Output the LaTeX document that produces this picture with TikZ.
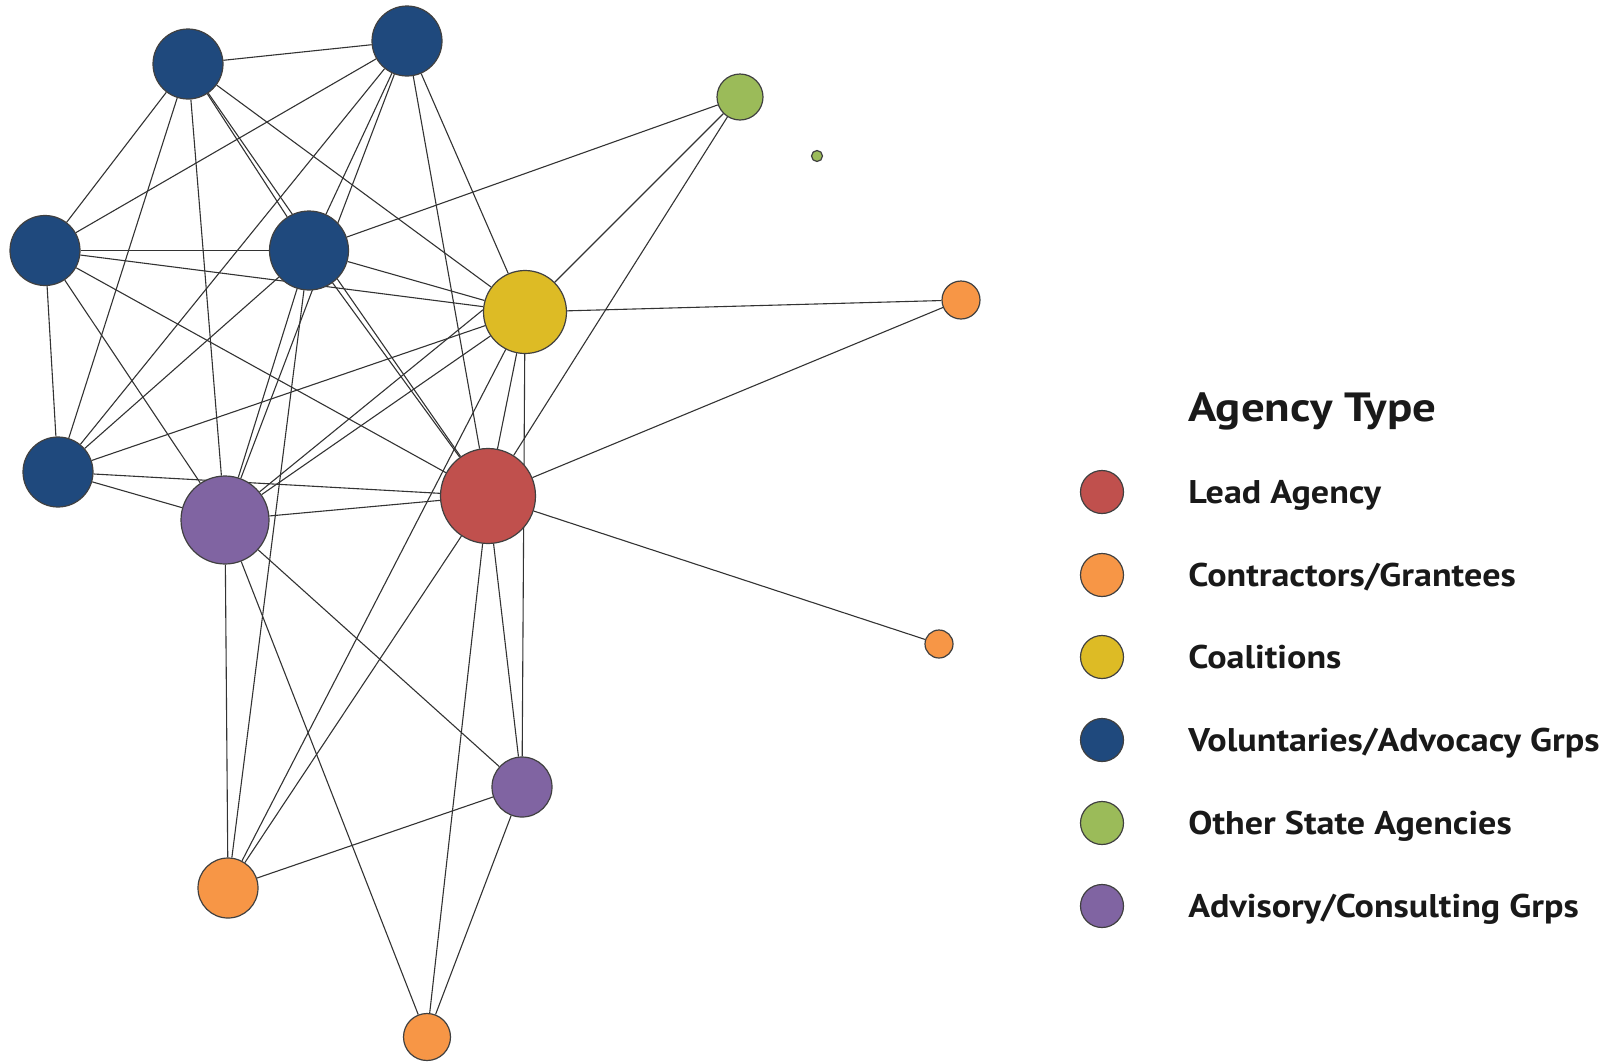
\documentclass[tikz,border=0pt]{standalone}
\usepackage{fontspec}
\setmainfont{PT Sans}
\newfontfamily\keyfont[FakeStretch=1.1]{PT Sans}
\newfontfamily\keytitlefont[FakeStretch=1.15]{PT Sans}
\usetikzlibrary{backgrounds}

\definecolor{leadred}{HTML}{C0504D}
\definecolor{conorange}{HTML}{F79646}
\definecolor{coalyellow}{HTML}{DDBB25}
\definecolor{volblue}{HTML}{1F497D}
\definecolor{stategreen}{HTML}{9BBB59}
\definecolor{advpurple}{HTML}{8064A2}

\begin{document}
\begin{tikzpicture}[x=0.5pt,y=-0.5pt]
        \tikzstyle{agency}=[circle, draw=black!75, line width=0.6pt, inner sep=0pt]
        \tikzstyle{tie}=[black!80, line width=0.55pt]
        \tikzstyle{key}=[anchor=base west, inner sep=0pt, text=black!90, font=\keyfont\bfseries\fontsize{16.4}{18}\selectfont]

        \useasboundingbox (0,0) rectangle (1617,1061);

        \node[agency, fill=volblue,    minimum size=35pt]   (v1)   at (188,64)    {};
        \node[agency, fill=volblue,    minimum size=35pt]   (v2)   at (407,41)    {};
        \node[agency, fill=volblue,    minimum size=35pt]   (v3)   at (45,250.5)  {};
        \node[agency, fill=volblue,    minimum size=39.5pt] (v4)   at (309,250.5) {};
        \node[agency, fill=volblue,    minimum size=35pt]   (v5)   at (58,472)    {};
        \node[agency, fill=coalyellow, minimum size=41.5pt] (coal) at (525,312)   {};
        \node[agency, fill=leadred,    minimum size=47.5pt] (lead) at (488,496)   {};
        \node[agency, fill=advpurple,  minimum size=44pt]   (adv1) at (225,520)   {};
        \node[agency, fill=advpurple,  minimum size=30pt]   (adv2) at (522,787)   {};
        \node[agency, fill=conorange,  minimum size=30pt]   (con1) at (228,888)   {};
        \node[agency, fill=conorange,  minimum size=23.5pt] (con2) at (427,1037)  {};
        \node[agency, fill=conorange,  minimum size=19pt]   (con3) at (961,300)   {};
        \node[agency, fill=conorange,  minimum size=14pt]   (con4) at (939,644)   {};
        \node[agency, fill=stategreen, minimum size=23pt]   (st1)  at (740,97)    {};
        \node[agency, fill=stategreen, minimum size=5.5pt]  (st2)  at (817,156)   {};

        \begin{scope}[on background layer]
        \draw[tie] (v1) -- (v2) -- (v3) -- (v1);
        \draw[tie] (v1) -- (v5);
        \draw[tie] (v1) -- (adv1);
        \draw[tie] (v1) -- (v4);
        \draw[tie] (v1) -- (lead);
        \draw[tie] (v1) -- (coal);
        \draw[tie] (v2) -- (v5);
        \draw[tie] (v2) -- (v4);
        \draw[tie] (v2) -- (adv1);
        \draw[tie] (v2) -- (lead);
        \draw[tie] (v2) -- (coal);
        \draw[tie] (v3) -- (v4);
        \draw[tie] (v3) -- (coal);
        \draw[tie] (v3) -- (v5);
        \draw[tie] (v3) -- (adv1);
        \draw[tie] (v3) -- (lead);
        \draw[tie] (v4) -- (st1);
        \draw[tie] (v4) -- (coal);
        \draw[tie] (v4) -- (v5);
        \draw[tie] (v4) -- (lead);
        \draw[tie] (v4) -- (adv1);
        \draw[tie] (v4) -- (con1);
        \draw[tie] (v5) -- (coal);
        \draw[tie] (v5) -- (lead);
        \draw[tie] (v5) -- (adv1);
        \draw[tie] (coal) -- (st1);
        \draw[tie] (coal) -- (con3);
        \draw[tie] (coal) -- (adv1);
        \draw[tie] (coal.177) -- (adv1);
        \draw[tie] (coal) -- (con1);
        \draw[tie] (coal) -- (lead);
        \draw[tie] (coal) -- (adv2);
        \draw[tie] (lead) -- (st1);
        \draw[tie] (lead) -- (con3);
        \draw[tie] (lead) -- (con4);
        \draw[tie] (lead) -- (adv1);
        \draw[tie] (lead) -- (con1);
        \draw[tie] (lead) -- (con2);
        \draw[tie] (lead) -- (adv2);
        \draw[tie] (adv1) -- (con1);
        \draw[tie] (adv1) -- (con2);
        \draw[tie] (adv1) -- (adv2);
        \draw[tie] (adv2) -- (con1);
        \draw[tie] (adv2) -- (con2);
        \end{scope}

        \node[key, font=\keytitlefont\bfseries\fontsize{20.4}{22}\selectfont] (keytitle) at (1188,421) {Agency Type};

        \node[agency, fill=leadred,    minimum size=21.5pt] (k1) at (1102,492) {};
        \node[agency, fill=conorange,  minimum size=21.5pt] (k2) at (1102,575) {};
        \node[agency, fill=coalyellow, minimum size=21.5pt] (k3) at (1102,657) {};
        \node[agency, fill=volblue,    minimum size=21.5pt] (k4) at (1102,740) {};
        \node[agency, fill=stategreen, minimum size=21.5pt] (k5) at (1102,823) {};
        \node[agency, fill=advpurple,  minimum size=21.5pt] (k6) at (1102,906) {};

        \node[key] (t1) at (1188,503.5) {Lead Agency};
        \node[key] (t2) at (1188,586.5) {Contractors/Grantees};
        \node[key] (t3) at (1188,668.5) {Coalitions};
        \node[key] (t4) at (1188,751.5) {Voluntaries/Advocacy Grps};
        \node[key] (t5) at (1188,834.5) {Other State Agencies};
        \node[key] (t6) at (1188,917.5) {Advisory/Consulting Grps};
\end{tikzpicture}
\end{document}
